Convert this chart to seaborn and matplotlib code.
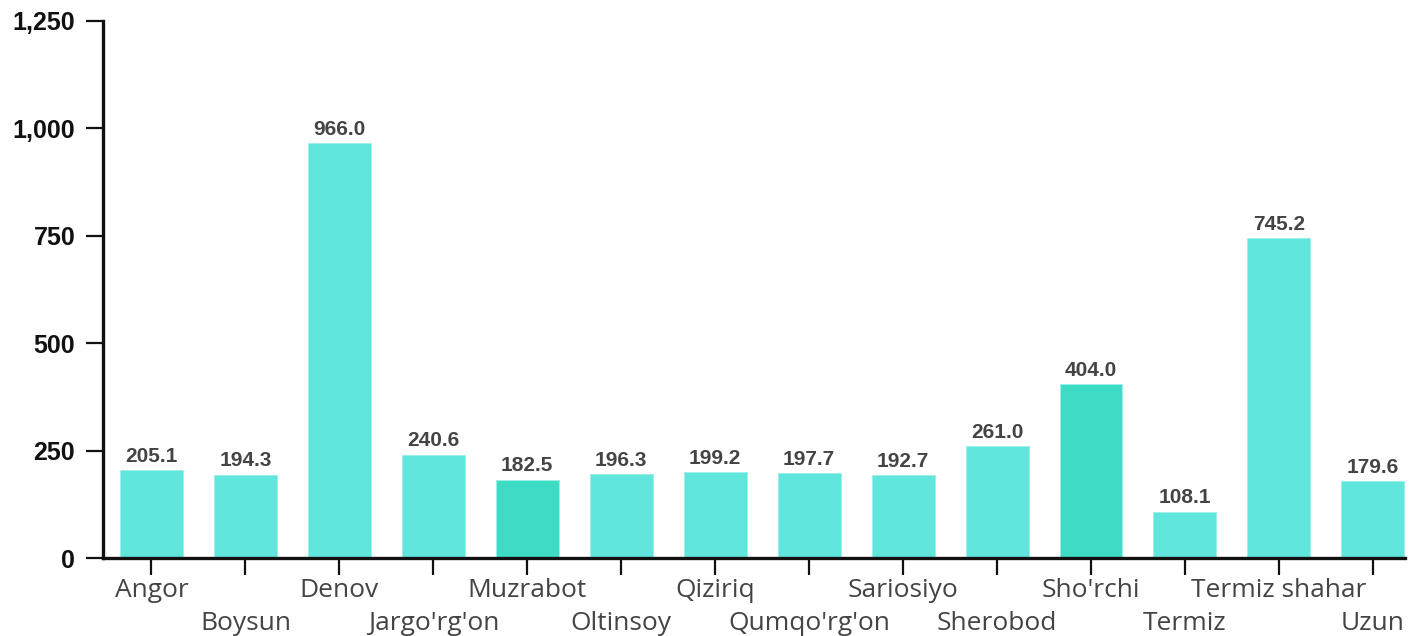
import matplotlib
matplotlib.use("Agg")
import matplotlib.pyplot as plt
import seaborn as sns
import pandas as pd
from matplotlib.ticker import FuncFormatter, FixedLocator

districts = ["Angor", "Boysun", "Denov", "Jargo'rg'on", "Muzrabot", "Oltinsoy",
             "Qiziriq", "Qumqo'rg'on", "Sariosiyo", "Sherobod", "Sho'rchi",
             "Termiz", "Termiz shahar", "Uzun"]
values = [205.1, 194.3, 966.0, 240.6, 182.5, 196.3, 199.2, 197.7, 192.7,
          261.0, 404.0, 108.1, 745.2, 179.6]
highlighted = ["Muzrabot", "Sho'rchi"]
y_ticks = [0, 250, 500, 750, 1000, 1250]

groups = ["hi" if d in highlighted else "base" for d in districts]
df = pd.DataFrame({"district": districts, "value": values, "group": groups})

sns.set_theme(style="ticks")
plt.rcParams["font.family"] = ["Liberation Sans", "DejaVu Sans"]

fig = plt.figure(figsize=(14.09, 6.36), dpi=100)
ax = fig.add_axes([0.0731, 0.1226, 0.9239, 0.8444])

sns.barplot(data=df, x="district", y="value", hue="group",
            palette={"base": "#61E6DE", "hi": "#3FDCC5"}, dodge=False,
            saturation=1, width=0.67, legend=False, ax=ax,
            edgecolor="#9af0ea", linewidth=0.6)

for cont in ax.containers:
    ax.bar_label(cont, fmt="%.1f", padding=3, fontsize=15,
                 fontweight="bold", color="#444444")

ax.set_xlim(-0.516, 13.34)
ax.set_ylim(0, 1250)
ax.yaxis.set_major_locator(FixedLocator(y_ticks))
ax.yaxis.set_major_formatter(FuncFormatter(lambda v, p: f"{int(v):,}"))
ax.set_xlabel("")
ax.set_ylabel("")

ax.set_xticks(range(len(districts)))
ax.set_xticklabels(districts, fontfamily="Open Sans", fontsize=19, color="#444444")

for t in ax.get_yticklabels():
    t.set_fontsize(18)
    t.set_fontweight("bold")
    t.set_color("#111111")

ax.tick_params(axis="x", length=12, width=1.6, color="#111111", pad=2.5)
ax.tick_params(axis="y", length=12, width=1.6, color="#111111", pad=8)
for i, tk in enumerate(ax.xaxis.get_major_ticks()):
    if i % 2 == 1:
        tk.set_pad(26.5)

for s in ["left", "bottom"]:
    ax.spines[s].set_linewidth(2.4)
    ax.spines[s].set_color("#111111")
for s in ["top", "right"]:
    ax.spines[s].set_visible(False)

fig.savefig("out.png", dpi=100)
